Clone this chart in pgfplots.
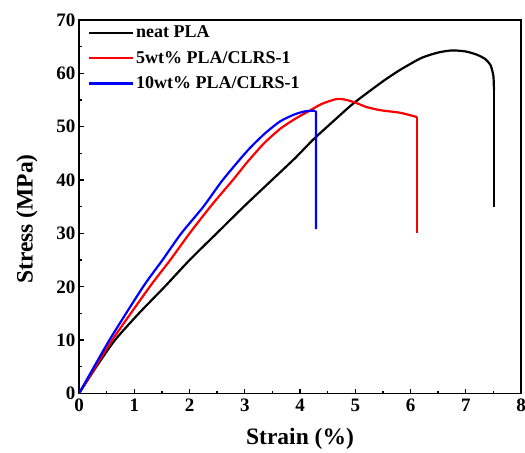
\documentclass[border=0pt]{standalone}
\usepackage{fontspec}
\setmainfont{Liberation Serif}
\usepackage{pgfplots}
\pgfplotsset{compat=1.18}
\begin{document}
\begin{tikzpicture}
\begin{axis}[
  scale only axis,
  width=442pt, height=373.5pt,
  xmin=0, xmax=8, ymin=0, ymax=70,
  xtick={0,1,...,8}, ytick={0,10,...,70},
  minor x tick num=1, minor y tick num=1,
  tick align=inside,
  xtick pos=bottom, ytick pos=left,
  major tick length=5pt, minor tick length=3pt,
  every tick/.style={black, line width=1.3pt},
  axis line style={line width=1.6pt},
  /pgf/number format/assume math mode=true,
  ticklabel style={font=\fontsize{19}{19}\selectfont\bfseries},
  xticklabel style={yshift=-2pt},
  label style={font=\fontsize{23.5}{23.5}\selectfont\bfseries},
  xlabel={Strain (\%)}, ylabel={Stress (MPa)},
  xlabel style={yshift=-9pt},
  ylabel style={at={(ticklabel cs:0.467)}, yshift=12pt},
  legend cell align=left,
  legend style={draw=none, fill=none, at={(0.015,0.995)}, anchor=north west,
    font=\fontsize{18}{18}\selectfont\bfseries, row sep=8pt, inner sep=2pt},
  legend image code/.code={\draw[#1, line width=2.4pt] (0pt,0pt) -- (44pt,0pt);},
  every legend image post/.style={line width=2.4pt},
  every axis plot/.append style={line width=2.2pt, line join=round},
]
\addplot[black, smooth, tension=0.4] coordinates {
(0,0) (0.3,4.8) (0.65,10) (1.1,15.2) (1.55,20) (2.0,25) (2.49,30) (3.0,35.2)
(3.45,39.6) (3.9,44) (4.24,47.6) (4.6,51) (4.97,54.4) (5.5,58.5) (5.82,60.7)
(6.2,62.9) (6.5,63.9) (6.75,64.3) (7.0,64.1) (7.2,63.5) (7.35,62.7) (7.45,61.5)
(7.5,59.5) (7.51,57)
};
\addlegendentry{neat PLA}
\addplot[red, smooth, tension=0.4] coordinates {
(0,0) (0.6,10) (1.28,20) (1.65,25) (2.0,30) (2.4,35.3) (2.8,40.2) (3.04,43.3)
(3.35,46.9) (3.64,49.6) (3.9,51.4) (4.12,52.7) (4.4,54.3) (4.67,55.2) (4.85,55.0)
(5.03,54.4) (5.2,53.7) (5.45,53.1) (5.82,52.6) (6.12,51.8)
};
\addlegendentry{5wt\% PLA/CLRS-1}
\addplot[blue, smooth, tension=0.4] coordinates {
(0,0) (0.55,10) (1.16,20) (1.51,25) (1.85,30) (2.25,35) (2.6,40) (3.04,45.4)
(3.35,48.6) (3.64,51) (3.9,52.3) (4.1,52.9) (4.28,53.0)
};
\addlegendentry{10wt\% PLA/CLRS-1}
\addplot[black, forget plot] coordinates {(7.51,57) (7.51,35)};
\addplot[red, forget plot] coordinates {(6.12,51.8) (6.12,30)};
\addplot[blue, forget plot] coordinates {(4.28,53.0) (4.29,52.6) (4.29,30.8)};
\end{axis}
\pgfresetboundingbox
\path ([shift={(-79pt,-58.5pt)}]current axis.south west) rectangle ([shift={(4pt,20pt)}]current axis.north east);
\end{tikzpicture}
\end{document}
